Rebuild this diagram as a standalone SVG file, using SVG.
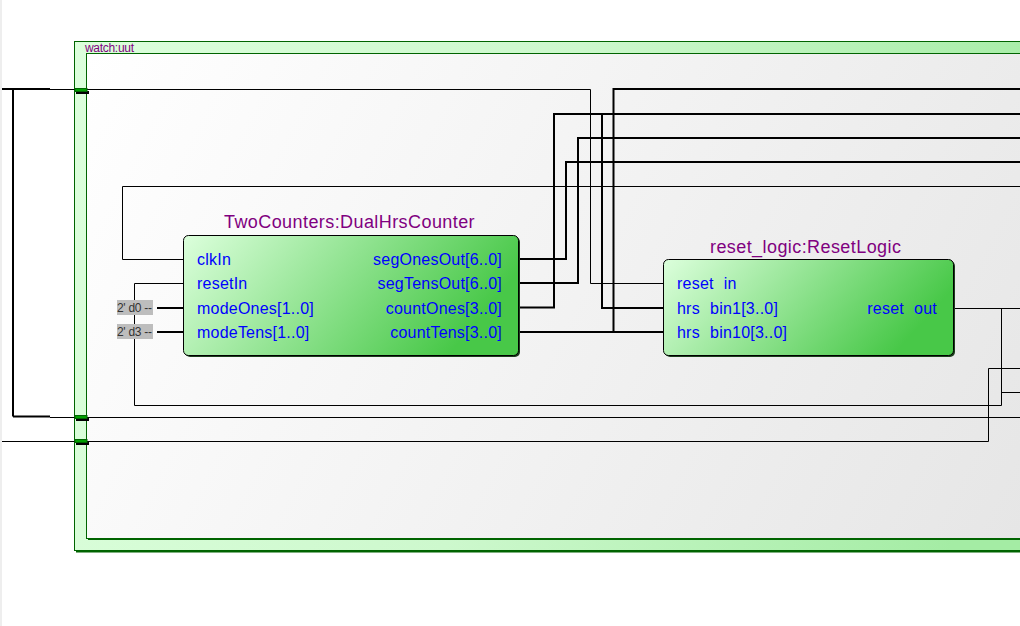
<svg xmlns="http://www.w3.org/2000/svg" width="1020" height="626" viewBox="0 0 1020 626">
<style>
text{font-family:"Liberation Sans",Arial,sans-serif}
.p{font-size:16px;fill:#0000ff;letter-spacing:.22px}
.e{text-anchor:end}
.t{font-size:18px;fill:#800080;letter-spacing:.42px}
.c{font-size:12px;fill:#333;letter-spacing:-.3px}
.g{word-spacing:5.500px}
.w{fill:none;stroke:#000;stroke-width:1}
.b{fill:none;stroke:#000;stroke-width:2}
.pg{fill:#00a000;stroke:#006400;stroke-width:1}
</style>
<defs>
<linearGradient id="og" gradientUnits="userSpaceOnUse" x1="75" y1="42" x2="1020" y2="300"><stop offset="0" stop-color="#dcffdc"/><stop offset=".5" stop-color="#cdf8cd"/><stop offset="1" stop-color="#a4eca4"/></linearGradient>
<linearGradient id="ig" gradientUnits="userSpaceOnUse" x1="87" y1="54" x2="1020" y2="538"><stop offset="0" stop-color="#fff"/><stop offset="1" stop-color="#e6e6e6"/></linearGradient>
<linearGradient id="ng" x1="0" y1="0" x2="1" y2=".3"><stop offset="0" stop-color="#dcffdc"/><stop offset="1" stop-color="#48c848"/></linearGradient>
</defs>
<rect width="1020" height="626" fill="#fff"/>
<rect width="2" height="626" fill="#eeeeee"/>
<g id="watch_uut">
<rect x="76" y="43" width="960" height="509.500" fill="#006400"/>
<rect x="74.500" y="41.500" width="960" height="509" fill="url(#og)" stroke="#006400"/>
<rect x="88" y="55" width="950" height="485" fill="#006400"/>
<rect x="86.500" y="53.500" width="950" height="485" fill="url(#ig)" stroke="#006400"/>
<text x="85" y="52" font-size="12" letter-spacing="-.3" fill="#800080">watch:uut</text>
</g>
<g id="connectors">
<path class="w" d="M50 89.500H590.500V283.500H663M50 417.500H1020M2 441.500H988.500V368.500H1020M183 259.500H122.500V186.500H1020M183 283.500H134.500V405.500H1001.500V308.500M953 308.500H1020M1001.500 392.500H1020"/>
<path class="b" d="M2 89H50M13 89V416.500M13 416.500H50M520 259H566V162H1020M520 283H578V138H1020M520 307.500H554V114H1020M602 114V308H663M520 332H663M613.500 332V89H1020M157 308H183M157 332H183"/>
</g>
<g id="ports">
<rect x="76" y="91" width="13" height="3" fill="#000"/><rect class="pg" x="75" y="88.500" width="12" height="3"/>
<rect x="76" y="418" width="13" height="3" fill="#000"/><rect class="pg" x="75" y="415.500" width="12" height="3"/>
<rect x="76" y="442" width="13" height="3" fill="#000"/><rect class="pg" x="75" y="439.500" width="12" height="3"/>
</g>
<g id="const_d0"><rect x="117" y="300" width="36" height="15" fill="#bdbdbd"/><text class="c" x="117" y="312">2' d0 --</text></g>
<g id="const_d3"><rect x="117" y="324" width="36" height="15" fill="#bdbdbd"/><text class="c" x="117" y="336">2' d3 --</text></g>
<g id="TwoCounters">
<rect x="185" y="237" width="335" height="120" rx="5" fill="#1d3d1d"/>
<rect x="183.500" y="235.500" width="335" height="120" rx="5" fill="url(#ng)" stroke="#000"/>
<text class="t" x="224" y="228">TwoCounters:DualHrsCounter</text>
<text class="p" x="197" y="265">clkIn</text>
<text class="p" x="197" y="289">resetIn</text>
<text class="p" x="197" y="314">modeOnes[1..0]</text>
<text class="p" x="197" y="338">modeTens[1..0]</text>
<text class="p e" x="502" y="265">segOnesOut[6..0]</text>
<text class="p e" x="502" y="289">segTensOut[6..0]</text>
<text class="p e" x="502" y="314">countOnes[3..0]</text>
<text class="p e" x="502" y="338">countTens[3..0]</text>
</g>
<g id="ResetLogic">
<rect x="665" y="261" width="290" height="96" rx="5" fill="#1d3d1d"/>
<rect x="663.500" y="259.500" width="290" height="96" rx="5" fill="url(#ng)" stroke="#000"/>
<text class="t" x="710" y="253">reset_logic:ResetLogic</text>
<text class="p g" x="677" y="289">reset in</text>
<text class="p g" x="677" y="314">hrs bin1[3..0]</text>
<text class="p g" x="677" y="338">hrs bin10[3..0]</text>
<text class="p e g" x="937" y="314">reset out</text>
</g>
</svg>
